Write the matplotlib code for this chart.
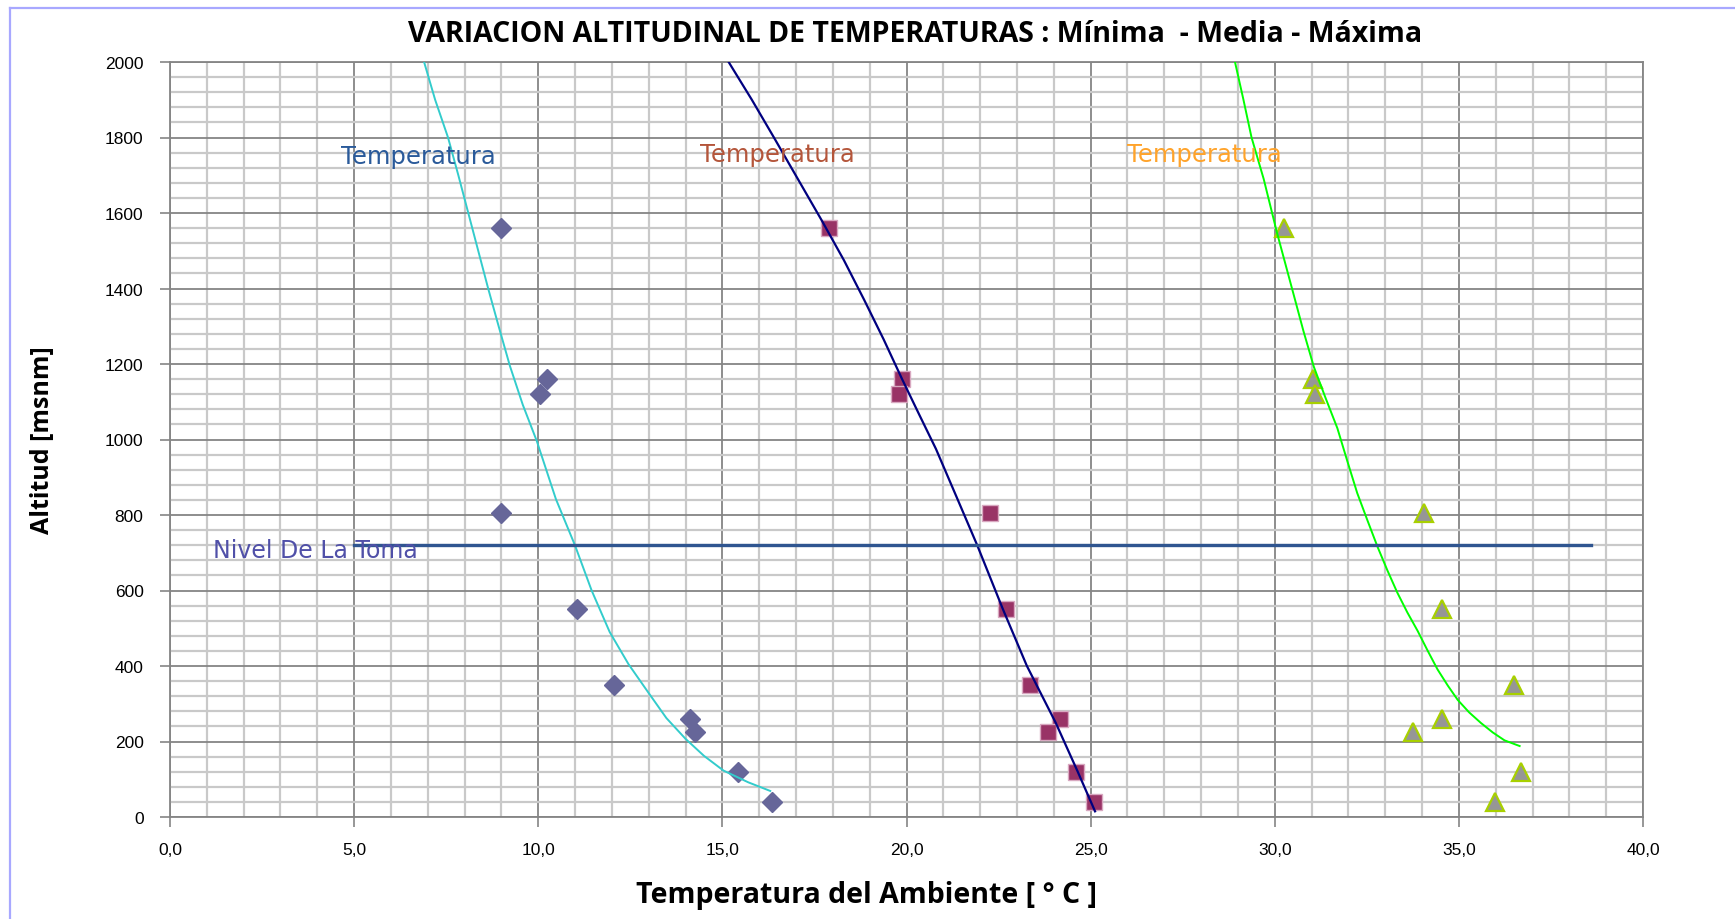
import numpy as np
import matplotlib
matplotlib.use('Agg')
import matplotlib.pyplot as plt
from matplotlib.ticker import MultipleLocator, FuncFormatter
from matplotlib.lines import Line2D

# altitud de las estaciones (msnm)
alt = [1560, 1160, 1120, 805, 550, 350, 260, 225, 120, 40]
# temperaturas (C)
t_min = [9.0, 10.23, 10.05, 9.0, 11.05, 12.05, 14.13, 14.25, 15.42, 16.35]
t_med = [17.9, 19.88, 19.79, 22.27, 22.7, 23.35, 24.17, 23.85, 24.6, 25.1]
t_max = [30.25, 31.05, 31.08, 34.04, 34.54, 36.51, 34.54, 33.75, 36.69, 35.97]

# lineas de tendencia
tend_min_t = [6.9, 7.2, 7.55, 7.83, 8.1, 8.37, 8.64, 8.93, 9.23, 9.58, 9.96, 10.48, 11.0,
              11.45, 11.94, 12.45, 12.98, 13.48, 14.0, 14.5, 15.03, 15.7, 16.3]
tend_min_alt = [2000, 1900, 1800, 1700, 1600, 1500, 1400, 1298, 1195, 1092, 996, 842, 719,
                600, 490, 405, 331, 262, 207, 162, 123, 92, 69]
tend_med_t = [15.17, 15.8, 16.4, 17.05, 17.7, 18.3, 18.85, 19.38, 19.88, 20.35, 20.8,
              21.35, 21.92, 22.62, 23.27, 24.05, 24.65, 25.12]
tend_med_alt = [2000, 1900, 1800, 1690, 1580, 1475, 1370, 1265, 1160, 1065, 975,
                850, 720, 550, 400, 250, 120, 15]
tend_max_t = [28.92, 29.15, 29.37, 29.70, 30.06, 30.51, 30.78, 31.06, 31.38, 31.70, 31.97,
              32.24, 32.52, 32.79, 33.06, 33.33, 33.6, 33.88, 34.15, 34.42, 34.7, 34.97,
              35.28, 35.6, 35.92, 36.24, 36.65]
tend_max_alt = [2000, 1900, 1800, 1690, 1548, 1385, 1287, 1193, 1110, 1030, 943,
                858, 785, 716, 653, 594, 542, 493, 441, 391, 348, 310,
                277, 249, 224, 203, 188]

# nivel de la toma
toma_t = [5.0, 38.6]
toma_alt = [720, 720]

W, H = 1735, 920
fig = plt.figure(figsize=(W / 100, H / 100), dpi=100)
ax = fig.add_axes([170 / W, 1 - 818 / H, (1643 - 170) / W, (818 - 63) / H])

ax.set_xlim(0, 40)
ax.set_ylim(0, 2000)
ax.xaxis.set_major_locator(MultipleLocator(5))
ax.xaxis.set_minor_locator(MultipleLocator(1))
ax.yaxis.set_major_locator(MultipleLocator(200))
ax.yaxis.set_minor_locator(MultipleLocator(40))
ax.xaxis.set_major_formatter(FuncFormatter(lambda v, p: f"{v:.1f}".replace('.', ',')))
ax.yaxis.set_major_formatter(FuncFormatter(lambda v, p: f"{v:.0f}"))

ax.set_axisbelow(True)
ax.grid(which='minor', color='#C9C9C9', lw=1.6)
ax.grid(which='major', color='#858585', lw=1.3)
for s in ax.spines.values():
    s.set_color('#858585')
    s.set_linewidth(1.3)
ax.tick_params(which='major', length=7, width=1.2, color='#858585', labelsize=12.5, pad=11)
ax.tick_params(axis='y', pad=12)
ax.tick_params(which='minor', length=0)
for lab in ax.get_xticklabels() + ax.get_yticklabels():
    lab.set_family(['Liberation Sans', 'DejaVu Sans'])

# puntos
ax.plot(t_min, alt, ls='none', marker='D', ms=10.5, mfc='#666699', mec='#666699', zorder=3)
ax.plot(t_med, alt, ls='none', marker='s', ms=12, mfc='#993366', mec='#D8A8C0', mew=1, zorder=3)
ax.plot(t_max, alt, ls='none', marker='^', ms=12.5, mfc='#969696', mec='#A8D000', mew=1.6, zorder=3)

# tendencias
ax.plot(tend_min_t, tend_min_alt, color='#33CCCC', lw=1.4, zorder=4)
ax.plot(tend_med_t, tend_med_alt, color='#000080', lw=1.6, zorder=4)
ax.plot(tend_max_t, tend_max_alt, color='#00FF00', lw=1.4, zorder=4)

ax.plot(toma_t, toma_alt, color='#2F5590', lw=2.4, zorder=4, clip_on=False)

txt = dict(fontsize=17.5, family='DejaVu Sans', ha='left', va='center', zorder=5)
ax.text(4.65, 1752, 'Temperatura', color='#2A5A9A', **txt)
ax.text(14.4, 1757, 'Temperatura', color='#B4553A', **txt)
ax.text(26.0, 1757, 'Temperatura', color='#FFA32A', **txt)
ax.text(1.17, 708, 'Nivel De La Toma', color='#5050A8', fontsize=17, family='DejaVu Sans',
        ha='left', va='center', zorder=5)

lbl = ['Open Sans', 'DejaVu Sans']
fig.text(915 / W, 1 - 35 / H, 'VARIACION ALTITUDINAL DE TEMPERATURAS : Mínima  - Media - Máxima',
         fontsize=20.5, fontweight='bold', family=lbl, ha='center', va='center')
fig.text(866 / W, 1 - 896 / H, 'Temperatura del Ambiente [ ° C ]',
         fontsize=20.5, fontweight='bold', family=lbl, ha='center', va='center')
fig.text(42 / W, 1 - 440 / H, 'Altitud [msnm]', rotation=90,
         fontsize=18, fontweight='bold', family=lbl, ha='center', va='center')

# marco
fig.add_artist(Line2D([10 / W, 10 / W], [0, 1 - 9 / H], color='#A8A8FF', lw=1.6))
fig.add_artist(Line2D([10 / W, 1], [1 - 9 / H, 1 - 9 / H], color='#A8A8FF', lw=1.6))

fig.savefig('out.png', dpi=100)
